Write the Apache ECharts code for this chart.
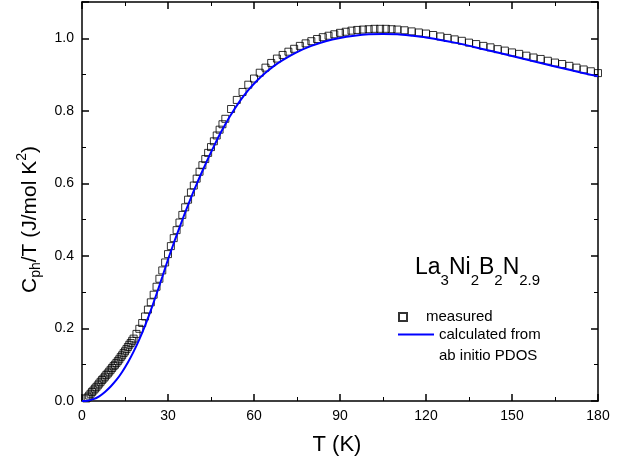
<!DOCTYPE html>
<html>
<head>
<meta charset="utf-8">
<script src="https://cdn.jsdelivr.net/npm/echarts@6/dist/echarts.min.js"></script>
<style>
  html, body { margin: 0; padding: 0; background: #fff; }
  #main { width: 635px; height: 464px; }
</style>
</head>
<body>
<div id="main"></div>
<script>
  // measured C_ph/T (open squares)
  var measuredT = [1.5, 2, 2.5, 3, 3.5, 4, 4.5, 5, 5.5, 6, 6.5, 7, 7.5, 8, 8.5, 9, 9.5, 10, 10.5, 11, 11.5, 12, 12.5, 13, 13.5, 14, 14.5, 15, 15.5, 16, 16.5, 17, 17.5, 18, 19, 20,
    21, 22, 23, 24, 25, 26, 27, 28, 29, 30, 31, 32, 33, 34, 35, 36, 37, 38, 39, 40, 41, 42, 43, 44, 45, 46, 47, 48, 49, 50,
    52, 54, 56, 58, 60, 62, 64, 66, 68, 70, 72, 74, 76, 78, 80, 82, 84, 86, 88, 90, 92, 94, 96, 98, 100, 102, 104, 106, 108, 110,
    112.5, 115, 117.5, 120, 122.5, 125, 127.5, 130, 132.5, 135, 137.5, 140, 142.5, 145, 147.5, 150, 152.5, 155, 157.5, 160,
    162.5, 165, 167.5, 170, 172.5, 175, 177.5, 180]
  var measuredC = [0.007, 0.010, 0.015, 0.020, 0.025, 0.029, 0.034, 0.038, 0.043, 0.048, 0.053, 0.058, 0.062, 0.067, 0.072, 0.076, 0.081, 0.086, 0.091, 0.096, 0.100, 0.105, 0.110, 0.115, 0.121, 0.126, 0.132, 0.137, 0.143, 0.149, 0.155, 0.160, 0.166, 0.172, 0.185, 0.199,
    0.215, 0.233, 0.252, 0.272, 0.293, 0.315, 0.337, 0.360, 0.382, 0.405, 0.427, 0.449, 0.471, 0.492, 0.513, 0.534, 0.555, 0.575, 0.594, 0.613, 0.632, 0.650, 0.667, 0.684, 0.700, 0.716, 0.732, 0.748, 0.763, 0.778,
    0.805, 0.830, 0.852, 0.872, 0.889, 0.905, 0.919, 0.932, 0.944, 0.954, 0.963, 0.971, 0.979, 0.986, 0.992, 0.998, 1.003, 1.007, 1.011, 1.015, 1.018, 1.021, 1.023, 1.024, 1.025, 1.026, 1.026, 1.026, 1.025, 1.024,
    1.022, 1.019, 1.016, 1.013, 1.009, 1.005, 1.001, 0.997, 0.993, 0.988, 0.984, 0.979, 0.975, 0.970, 0.966, 0.961, 0.957, 0.952, 0.947, 0.943,
    0.938, 0.933, 0.929, 0.924, 0.919, 0.914, 0.909, 0.904]

  // calculated from ab initio PDOS (blue line)
  var calcT = [0, 2, 4, 6, 8, 10, 12, 14, 16, 18, 20, 22, 24, 26, 28, 30, 32, 34, 36, 38, 40, 42, 44, 46, 48, 50, 52, 55, 58, 61, 64, 67, 70, 75, 80, 85, 90, 95, 100, 105, 110, 115, 120, 130, 140, 150, 160, 170, 180]
  var calcC = [0, 0.001, 0.005, 0.013, 0.025, 0.040, 0.058, 0.080, 0.106, 0.136, 0.170, 0.208, 0.250, 0.295, 0.342, 0.390, 0.435, 0.478, 0.520, 0.560, 0.598, 0.634, 0.669, 0.702, 0.734, 0.763, 0.790, 0.826, 0.857, 0.883, 0.905, 0.924, 0.940, 0.962, 0.979, 0.992, 1.001, 1.007, 1.011, 1.012, 1.011, 1.007, 1.002, 0.988, 0.970, 0.951, 0.932, 0.913, 0.895]

  var xMin = 0, xMax = 180, xStep = 30
  var yMin = 0, yMax = 1.1, yStep = 0.2

  var font = 'Liberation Sans, Arial, sans-serif'

  var measured = measuredT.map(function (t, i) { return [t, measuredC[i]] })
  var calc = calcT.map(function (t, i) { return [t, calcC[i]] })

  // shared look of the frame axes (ticks point inward)
  function frameAxis(extra) {
    var base = {
      type: 'value',
      axisLine: { show: true, onZero: false, lineStyle: { color: '#000', width: 1.5 } },
      axisTick: { show: true, inside: true, length: 7, lineStyle: { color: '#000', width: 1.5 } },
      minorTick: { show: true, splitNumber: 2, length: 4, lineStyle: { color: '#000', width: 1 } },
      splitLine: { show: false },
      minorSplitLine: { show: false },
      axisLabel: { color: '#000', fontSize: 14, fontFamily: font, margin: 8 }
    }
    return Object.assign(base, extra)
  }

  var chart = echarts.init(document.getElementById('main'))
  chart.setOption({
    animation: false,
    backgroundColor: '#fff',
    grid: { left: 82, right: 37, top: 2, bottom: 63 },
    title: {
      text: '{m|La}{s|3}{m|Ni}{s|2}{m|B}{s|2}{m|N}{s|2.9}',
      left: 415,
      top: 256,
      padding: 0,
      textStyle: {
        fontWeight: 'normal',
        rich: {
          m: { fontSize: 23, fontWeight: 'normal', fontFamily: font, color: '#000', lineHeight: 26, verticalAlign: 'top' },
          s: { fontSize: 15, fontWeight: 'normal', fontFamily: font, color: '#000', lineHeight: 15, padding: [17, 0, 0, 0], verticalAlign: 'top' }
        }
      }
    },
    legend: [{
      data: [{ name: 'measured', icon: 'path://M0,0H10V10H0Z' }],
      left: 398,
      top: 308,
      padding: 0,
      itemWidth: 36,
      itemHeight: 8,
      selectedMode: false,
      textStyle: { fontSize: 15, fontFamily: font, color: '#000', lineHeight: 18 }
    }, {
      data: [{ name: 'calculated', icon: 'path://M0,0H36V2H0Z' }],
      left: 398,
      top: 303,
      padding: 0,
      itemWidth: 36,
      itemHeight: 8,
      selectedMode: false,
      formatter: function () { return ' \ncalculated from\nab initio PDOS' },
      textStyle: { fontSize: 15, fontFamily: font, color: '#000', lineHeight: 21 }
    }],
    xAxis: [
      frameAxis({
        position: 'bottom', min: xMin, max: xMax, interval: xStep,
        name: 'T (K)', nameLocation: 'middle', nameGap: 33,
        nameTextStyle: { fontSize: 22, fontFamily: font, color: '#000', padding: [0, 6, 0, 0] }
      }),
      frameAxis({
        position: 'top', min: xMin, max: xMax, interval: xStep,
        axisLabel: { show: false }
      })
    ],
    yAxis: [
      frameAxis({
        position: 'left', min: yMin, max: yMax, interval: yStep,
        axisLabel: {
          color: '#000', fontSize: 14, fontFamily: font, margin: 8, showMaxLabel: false,
          formatter: function (v) { return v.toFixed(1) }
        },
        name: '{m|C}{s|ph}{m|/T (J/mol K}{p|2}{m|)}',
        nameLocation: 'middle',
        nameRotate: 90,
        nameGap: 41,
        nameTextStyle: {
          padding: [0, 36, 0, 0],
          rich: {
            m: { fontSize: 21, fontFamily: font, color: '#000', lineHeight: 25, padding: [4, 0, 0, 0], verticalAlign: 'top' },
            s: { fontSize: 14, fontFamily: font, color: '#000', lineHeight: 15, padding: [14, 0, 0, 0], verticalAlign: 'top' },
            p: { fontSize: 14, fontFamily: font, color: '#000', lineHeight: 15, padding: [0, 0, 14, 0], verticalAlign: 'top' }
          }
        }
      }),
      frameAxis({
        position: 'right', min: yMin, max: yMax, interval: yStep,
        axisLabel: { show: false }
      })
    ],
    series: [{
      name: 'measured',
      type: 'scatter',
      data: measured,
      symbol: 'rect',
      symbolSize: 7,
      itemStyle: { color: 'rgba(0,0,0,0)', borderColor: '#000', borderWidth: 1 },
      z: 2
    }, {
      name: 'calculated',
      type: 'line',
      data: calc,
      smooth: 0.3,
      symbol: 'none',
      lineStyle: { color: '#0000ff', width: 2 },
      itemStyle: { color: '#0000ff' },
      z: 3
    }]
  })
</script>
</body>
</html>
